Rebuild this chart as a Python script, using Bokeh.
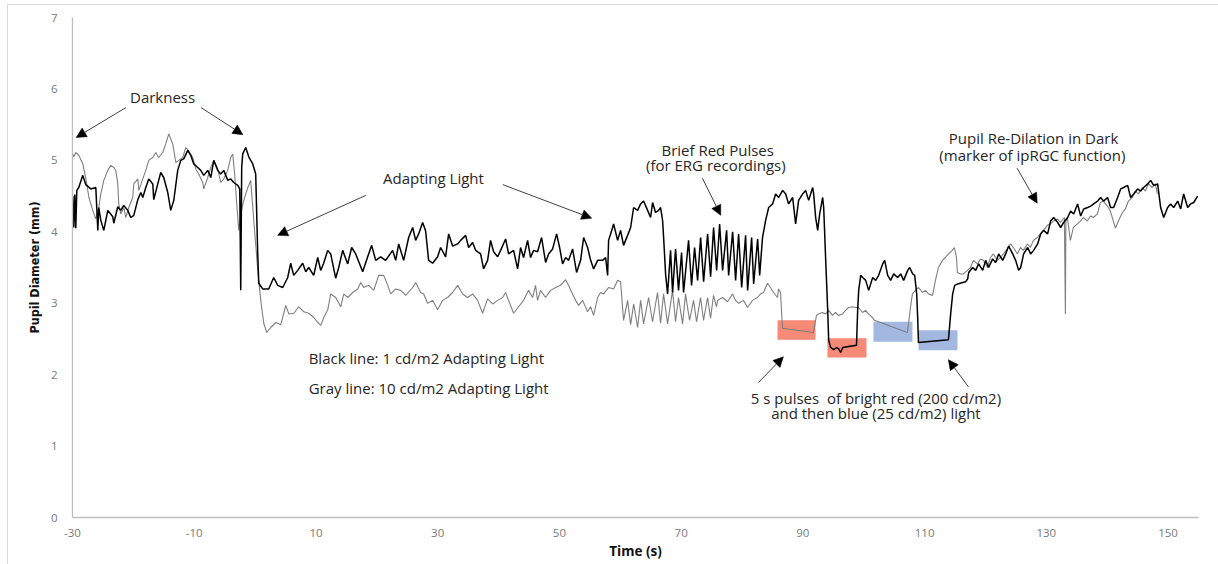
from bokeh.plotting import figure
from bokeh.models import Arrow, NormalHead, Label, FixedTicker, Range1d
from bokeh.embed import file_html
from bokeh.resources import INLINE

# ---- recorded pupil diameter (mm) vs time (s) ----
# 1 cd/m2 adapting light (black trace)
black_time = [
    -29.95, -29.79, -29.62, -29.46, -29.29, -28.97, -28.31, -27.82, -26.99, -26.17,
    -25.84, -25.68, -25.35, -24.86, -24.20, -23.38, -23.22, -22.56, -22.07, -21.58,
    -20.92, -20.43, -19.93, -19.27, -18.78, -18.45, -17.96, -17.47, -16.81, -16.65,
    -15.99, -15.50, -15.01, -14.35, -13.86, -13.36, -12.71, -12.21, -11.72, -11.06,
    -10.57, -10.08, -9.42, -8.93, -8.43, -7.78, -7.28, -6.79, -6.13, -5.64,
    -5.15, -4.49, -4.00, -3.51, -2.85, -2.52, -2.36, -2.20, -2.03, -1.54,
    -1.04, -0.39, 0.10, 0.43, 0.60, 1.25,
    2.24, 3.06, 3.72, 4.54, 5.36, 5.85, 6.34, 7.00, 7.82, 8.32,
    8.81, 9.63, 10.29, 10.78, 11.27, 11.93, 12.42, 13.24, 13.74, 14.39,
    15.21, 15.87, 16.53, 17.68, 18.50, 19.15, 19.81, 20.63, 21.45, 22.60,
    23.10, 23.59, 24.41, 25.23, 25.89, 26.38, 26.87, 27.53, 28.02, 28.51,
    29.17, 29.99, 30.48, 31.30, 31.80, 32.46, 33.28, 33.77, 34.59, 35.08,
    35.74, 36.23, 37.05, 37.54, 38.20, 38.69, 39.19, 39.85, 40.34, 41.16,
    41.65, 42.47, 43.13, 43.62, 44.11, 44.77, 45.26, 45.76, 46.41, 47.07,
    47.73, 48.22, 48.88, 49.54, 50.03, 50.52, 51.02, 51.51, 52.17, 52.82,
    53.48, 53.98, 54.63, 55.13, 55.62, 56.28, 57.10, 57.59, 57.92, 58.08,
    58.74, 58.90, 59.56, 60.05, 60.54, 61.20, 61.70, 62.19, 62.85, 63.34,
    63.83, 64.49, 64.98, 65.31, 65.80, 66.30, 66.62, 66.95, 67.12, 67.45,
    67.77, 68.26, 68.59, 69.08, 69.57, 70.07, 70.40, 71.22, 71.71, 72.21,
    72.70, 73.20, 73.69, 74.35, 74.84, 75.33, 75.83, 76.32, 76.81, 77.47,
    77.80, 78.46, 78.95, 79.44, 79.94, 80.59, 80.92, 81.58, 81.91, 82.57,
    82.90, 83.37, 83.88, 84.38, 85.03, 85.52, 86.02, 86.68, 87.17, 87.66,
    88.32, 88.81, 89.30, 89.96, 90.45, 90.95, 91.61, 91.77, 92.10, 92.43,
    92.76, 93.25, 93.42, 93.75, 94.08, 94.24, 94.57, 95.06, 95.55, 95.88,
    96.21, 96.54, 98.81, 99.00, 99.17, 99.50, 99.82, 100.32, 100.81, 101.47,
    101.96, 102.45, 103.11, 103.44, 103.93, 104.42, 104.92, 105.57, 106.07, 106.56,
    107.22, 107.55, 108.04, 108.37, 108.70, 108.86, 108.99, 113.92, 114.28, 114.61,
    114.94, 115.44, 116.26, 116.75, 117.08, 117.24, 117.90, 118.39, 118.88, 119.54,
    120.03, 120.52, 121.18, 121.68, 122.17, 122.83, 123.32, 123.81, 124.47, 124.96,
    125.45, 125.78, 126.27, 126.93, 127.42, 127.91, 128.57, 129.06, 129.55, 130.21,
    130.70, 131.20, 131.86, 132.35, 132.84, 133.50, 133.99, 134.49, 135.14, 135.64,
    136.13, 136.79, 137.28, 137.77, 138.43, 138.92, 139.41, 140.07, 140.56, 141.06,
    141.71, 142.21, 142.70, 143.36, 143.85, 144.35, 145.00, 145.50, 145.99, 146.65,
    147.14, 147.63, 148.29, 148.78, 149.28, 149.93, 150.43, 150.92, 151.58, 152.07,
    152.56, 153.22, 153.71, 154.21, 154.86,
]
black_pupil = [
    4.50, 4.06, 4.52, 4.05, 4.58, 4.62, 4.79, 4.66, 4.60, 4.62,
    4.02, 4.34, 4.16, 4.02, 4.30, 4.21, 4.12, 4.35, 4.30, 4.37,
    4.30, 4.20, 4.23, 4.45, 4.55, 4.48, 4.62, 4.74, 4.67, 4.45,
    4.67, 4.83, 4.76, 4.55, 4.30, 4.44, 4.86, 5.00, 5.02, 5.14,
    5.07, 4.95, 4.90, 4.86, 4.79, 4.86, 4.76, 5.00, 4.86, 4.81,
    4.86, 4.72, 4.74, 4.69, 4.65, 4.60, 3.18, 4.90, 5.09, 5.18,
    5.05, 4.95, 4.81, 3.70, 3.28, 3.20,
    3.20, 3.36, 3.25, 3.22, 3.36, 3.56, 3.39, 3.46, 3.56, 3.44,
    3.50, 3.39, 3.64, 3.46, 3.56, 3.74, 3.69, 3.35, 3.50, 3.74,
    3.55, 3.78, 3.69, 3.44, 3.65, 3.81, 3.60, 3.65, 3.60, 3.74,
    3.60, 3.83, 3.60, 3.92, 4.06, 3.88, 3.97, 4.13, 4.01, 3.60,
    3.56, 3.65, 3.78, 3.65, 3.97, 3.80, 3.83, 3.88, 3.95, 3.78,
    3.85, 3.74, 3.69, 3.48, 3.60, 3.88, 3.72, 3.65, 3.74, 3.90,
    3.69, 3.74, 3.48, 3.78, 3.64, 3.88, 3.64, 3.74, 3.72, 3.92,
    3.57, 3.69, 3.76, 3.97, 3.78, 3.55, 3.64, 3.60, 3.76, 3.43,
    3.60, 3.92, 3.78, 3.60, 3.48, 3.60, 3.60, 3.64, 3.39, 3.88,
    4.06, 4.11, 3.88, 4.02, 3.81, 3.95, 4.06, 4.34, 4.30, 4.39,
    4.43, 4.30, 4.20, 4.41, 4.27, 4.30, 4.34, 4.16, 3.92, 3.40,
    3.13, 3.74, 3.15, 3.76, 3.18, 3.71, 3.15, 3.88, 3.25, 3.78,
    3.32, 3.92, 3.30, 3.97, 3.37, 4.06, 3.46, 4.11, 3.46, 4.02,
    3.39, 4.00, 3.32, 3.97, 3.22, 3.95, 3.18, 3.92, 3.27, 3.90,
    3.39, 3.92, 4.16, 4.34, 4.39, 4.53, 4.48, 4.58, 4.53, 4.39,
    4.48, 4.11, 4.44, 4.53, 4.58, 4.44, 4.62, 4.53, 4.20, 4.02,
    4.25, 4.48, 4.34, 3.60, 2.90, 2.48, 2.38, 2.35, 2.38, 2.36,
    2.31, 2.38, 2.41, 2.90, 3.18, 3.39, 3.36, 3.32, 3.18, 3.36,
    3.32, 3.39, 3.55, 3.60, 3.39, 3.32, 3.41, 3.36, 3.41, 3.32,
    3.46, 3.50, 3.41, 3.39, 3.13, 2.80, 2.45, 2.49, 2.85, 3.13,
    3.25, 3.27, 3.29, 3.30, 3.34, 3.43, 3.50, 3.46, 3.55, 3.46,
    3.60, 3.50, 3.62, 3.57, 3.69, 3.60, 3.69, 3.80, 3.69, 3.60,
    3.46, 3.50, 3.69, 3.78, 3.69, 3.74, 3.83, 3.97, 4.02, 3.97,
    4.15, 4.20, 4.13, 4.06, 4.13, 4.20, 4.29, 4.25, 4.39, 4.22,
    4.32, 4.34, 4.36, 4.39, 4.43, 4.48, 4.43, 4.48, 4.34, 4.34,
    4.48, 4.60, 4.62, 4.65, 4.48, 4.53, 4.60, 4.57, 4.62, 4.67,
    4.72, 4.65, 4.67, 4.34, 4.20, 4.34, 4.39, 4.34, 4.43, 4.32,
    4.53, 4.34, 4.39, 4.41, 4.50,
]

# 10 cd/m2 adapting light (gray trace)
gray_time = [
    -29.95, -29.79, -29.46, -28.96, -28.30, -27.80, -27.30, -26.67, -26.17, -25.68,
    -25.35, -24.86, -24.20, -23.71, -23.22, -22.89, -22.56, -22.40, -22.07, -21.57,
    -21.25, -20.75, -20.10, -19.93, -19.27, -19.11, -18.45, -17.96, -17.47, -16.81,
    -16.32, -15.83, -15.17, -14.68, -14.18, -13.53, -13.03, -12.54, -11.88, -11.39,
    -10.90, -10.24, -9.75, -9.26, -8.60, -8.44, -7.78, -7.29, -6.79, -6.14,
    -5.64, -5.15, -4.50, -4.00, -3.67, -3.35, -3.02, -2.69, -2.36, -1.86,
    -1.20, -0.72, -0.22, 0.44, 0.93, 1.42, 1.92,
    2.57, 3.40, 4.23, 5.05, 5.54, 6.36, 7.18, 8.00, 8.82, 9.64,
    10.30, 10.79, 11.28, 11.94, 12.43, 13.25, 14.07, 14.57, 15.22, 16.04,
    16.86, 17.35, 17.85, 18.67, 19.49, 20.31, 21.13, 21.79, 22.28, 23.10,
    23.92, 24.74, 25.89, 26.38, 27.20, 27.70, 28.35, 29.17, 29.99, 30.81,
    31.63, 32.45, 33.28, 34.10, 34.92, 35.74, 36.56, 37.38, 38.20, 39.03,
    39.85, 40.67, 41.16, 41.65, 42.47, 43.29, 44.11, 44.93, 45.59, 46.08,
    46.41, 46.90, 47.73, 48.55, 49.37, 50.19, 51.01, 51.50, 52.16, 52.66,
    53.15, 53.81, 54.63, 55.12, 55.62, 56.27, 56.77, 57.26, 58.08, 58.90,
    59.56, 60.05, 60.54, 61.20, 61.70, 62.20, 62.85, 63.34, 63.83, 64.65,
    65.30, 66.12, 66.62, 67.11, 67.77, 68.59, 69.08, 69.57, 70.23, 70.72,
    71.38, 72.04, 72.53, 73.19, 73.68, 74.34, 74.83, 75.32, 75.81, 75.98,
    76.80, 77.62, 78.44, 78.93, 79.43, 80.25, 80.91, 81.73, 82.55, 83.04,
    83.53, 84.19, 84.68, 85.18, 85.83, 86.00, 86.33, 86.65, 91.74, 92.24,
    92.57, 93.22, 93.71, 94.21, 94.87, 95.36, 95.85, 96.51, 97.00, 97.49,
    98.15, 98.64, 99.14, 99.79, 100.29, 100.78, 101.43, 101.76, 107.18, 107.68,
    108.00, 108.50, 108.99, 109.65, 110.14, 110.63, 111.29, 111.78, 112.27, 112.93,
    113.42, 113.92, 114.57, 114.90, 115.23, 115.39, 115.89, 116.38, 117.04, 117.53,
    118.02, 118.68, 119.17, 119.66, 120.32, 120.81, 121.31, 121.96, 122.46, 122.95,
    123.60, 124.10, 124.59, 125.25, 125.74, 126.23, 126.89, 127.38, 127.87, 128.53,
    129.03, 129.52, 130.17, 130.67, 131.16, 131.82, 132.31, 132.97, 133.13, 133.21,
    133.46, 133.95, 134.44, 135.10, 135.59, 136.09, 136.74, 137.24, 137.73, 138.39,
    138.88, 139.37, 140.03, 140.52, 141.01, 141.34, 141.84, 142.49, 142.98, 143.48,
    144.13, 144.63, 145.12, 145.78, 146.27, 146.76, 147.42, 147.91, 148.24,
]
gray_pupil = [
    5.09, 5.05, 5.11, 5.07, 4.95, 4.74, 4.48, 4.30, 4.18, 4.34,
    4.53, 4.72, 4.86, 4.93, 4.90, 4.86, 4.67, 4.39, 4.25, 4.34,
    4.20, 4.34, 4.48, 4.67, 4.74, 4.58, 4.74, 4.86, 5.00, 5.04,
    5.11, 5.04, 5.11, 5.23, 5.37, 5.23, 4.97, 5.00, 5.04, 5.18,
    5.13, 5.04, 4.88, 4.81, 4.69, 4.60, 4.76, 4.90, 5.00, 4.88,
    4.69, 4.74, 4.86, 5.04, 5.09, 4.80, 4.40, 4.02, 4.25, 4.44,
    4.62, 4.72, 4.16, 3.46, 3.04, 2.72, 2.59,
    2.66, 2.73, 2.70, 2.97, 2.85, 2.86, 2.95, 2.88, 2.86, 2.80,
    2.73, 2.69, 2.80, 2.91, 3.13, 3.08, 2.95, 3.13, 3.08, 3.15,
    3.20, 3.29, 3.22, 3.25, 3.18, 3.39, 3.39, 3.25, 3.13, 3.20,
    3.18, 3.11, 3.22, 3.29, 3.15, 3.13, 3.00, 3.04, 2.91, 3.04,
    3.08, 3.15, 3.25, 3.13, 3.08, 3.13, 3.04, 2.86, 3.06, 2.99,
    3.04, 3.08, 3.15, 3.04, 2.86, 2.95, 3.04, 3.18, 3.08, 3.25,
    3.04, 3.18, 3.08, 3.18, 3.22, 3.25, 3.33, 3.25, 3.13, 3.04,
    2.97, 3.04, 2.88, 2.95, 2.83, 3.08, 3.15, 3.13, 3.22, 3.20,
    3.32, 3.30, 2.76, 3.04, 2.70, 2.99, 2.66, 3.04, 2.71, 3.08,
    2.74, 3.15, 2.72, 3.13, 2.71, 3.18, 2.74, 3.08, 2.71, 3.13,
    2.76, 3.04, 2.74, 3.08, 2.76, 3.08, 2.79, 3.11, 2.95, 3.04,
    3.08, 3.02, 3.13, 3.04, 3.00, 3.04, 2.94, 3.04, 3.08, 3.13,
    3.15, 3.28, 3.22, 3.15, 3.08, 3.20, 3.15, 2.65, 2.59, 2.83,
    2.85, 2.87, 2.85, 2.90, 2.83, 2.87, 2.83, 2.85, 2.90, 2.94,
    2.95, 2.94, 2.94, 2.87, 2.90, 2.85, 2.80, 2.76, 2.59, 2.94,
    3.13, 3.18, 3.22, 3.15, 3.18, 3.13, 3.11, 3.32, 3.50, 3.60,
    3.64, 3.69, 3.74, 3.78, 3.64, 3.43, 3.41, 3.41, 3.46, 3.50,
    3.60, 3.55, 3.62, 3.60, 3.50, 3.64, 3.69, 3.60, 3.64, 3.69,
    3.76, 3.83, 3.78, 3.69, 3.78, 3.74, 3.83, 3.78, 3.88, 3.92,
    3.97, 4.02, 4.09, 4.11, 4.15, 4.18, 4.13, 4.20, 2.85, 4.15,
    4.20, 3.88, 4.06, 4.11, 4.15, 4.20, 4.15, 4.22, 4.20, 4.25,
    4.41, 4.43, 4.36, 4.29, 4.15, 4.05, 4.15, 4.27, 4.32, 4.43,
    4.48, 4.57, 4.53, 4.62, 4.57, 4.67, 4.62, 4.67, 4.53,
]

# 5 s light pulses: bright red, then blue
pulse_kind = ["red", "red", "blue", "blue"]
pulse_start = [85.83, 94.04, 101.60, 109.00]
pulse_end = [92.07, 100.45, 108.00, 115.40]
pulse_low = [2.49, 2.24, 2.46, 2.34]
pulse_high = [2.76, 2.51, 2.74, 2.62]

x_ticks = [-30, -10, 10, 30, 50, 70, 90, 110, 130, 150]
y_ticks = [0, 1, 2, 3, 4, 5, 6, 7]

TEXT = "#262626"
FONT = "Open Sans"

p = figure(
    width=1211, height=560,
    x_range=Range1d(-30, 155), y_range=Range1d(0, 7),
    output_backend="svg", toolbar_location=None,
    min_border_left=64, min_border_right=21, min_border_top=12, min_border_bottom=48,
    margin=(4, 0, 0, 7),
    styles={"border-left": "1px solid #d9d9d9", "border-top": "1px solid #d9d9d9"},
)
p.background_fill_color = "white"
p.border_fill_color = "white"
p.outline_line_color = None
p.xgrid.visible = False
p.ygrid.visible = False

for ax in (p.xaxis[0], p.yaxis[0]):
    ax.axis_line_color = "#BFBFBF"
    ax.axis_line_width = 1.3
    ax.major_tick_line_color = None
    ax.minor_tick_line_color = None
    ax.major_label_text_font = FONT
    ax.major_label_text_font_size = "11.5px"
    ax.major_label_text_color = "#7A7A7A"
    ax.axis_label_text_color = "#111111"
    ax.axis_label_text_font_style = "bold"

p.xaxis.ticker = FixedTicker(ticks=x_ticks)
p.yaxis.ticker = FixedTicker(ticks=y_ticks)
# plain hyphen for negative tick labels
p.xaxis.major_label_overrides = {t: f"{t:d}" for t in x_ticks}
p.xaxis.major_label_standoff = 5
p.yaxis.major_label_standoff = 9
p.xaxis.axis_label = "Time (s)"
p.xaxis.axis_label_text_font = FONT
p.xaxis.axis_label_text_font_size = "13.5px"
p.xaxis.axis_label_standoff = 2
p.yaxis.axis_label = "Pupil Diameter (mm)"
p.yaxis.axis_label_text_font = "'Liberation Sans Narrow', 'DejaVu Sans Condensed', sans-serif"
p.yaxis.axis_label_text_font_size = "12.5px"
p.yaxis.axis_label_standoff = 6

# stimulus pulse boxes (drawn beneath the traces)
pulse_fill = {"red": "#F58A77", "blue": "#A2B8E0"}
p.quad(left=pulse_start, right=pulse_end, bottom=pulse_low, top=pulse_high,
       fill_color=[pulse_fill[k] for k in pulse_kind], line_color=None)

p.line(gray_time, gray_pupil, line_color="#7F7F7F", line_width=1.1)
p.line(black_time, black_pupil, line_color="black", line_width=1.5)

# annotation arrows: (x_start, y_start, x_end, y_end)
arrows = [
    (-21.2, 5.74, -29.4, 5.32),
    (-8.9, 5.74, -2.0, 5.36),
    (18.2, 4.51, 3.7, 3.95),
    (40.7, 4.66, 55.3, 4.19),
    (73.5, 4.75, 76.5, 4.23),
    (125.2, 4.89, 128.5, 4.40),
    (82.7, 1.89, 86.8, 2.25),
    (117.2, 1.83, 113.9, 2.21),
]
for xs, ys, xe, ye in arrows:
    p.add_layout(Arrow(x_start=xs, y_start=ys, x_end=xe, y_end=ye,
                       line_color="#404040", line_width=1,
                       end=NormalHead(size=10, fill_color="black", line_color="black", line_width=0.5)))

notes = [
    ("Darkness", -15.2, 5.89, "center"),
    ("Adapting Light", 29.3, 4.76, "center"),
    ("Brief Red Pulses", 76.0, 5.15, "center"),
    ("(for ERG recordings)", 75.7, 4.93, "center"),
    ("Pupil Re-Dilation in Dark", 127.9, 5.32, "center"),
    ("(marker of ipRGC function)", 127.7, 5.08, "center"),
    ("Black line: 1 cd/m2 Adapting Light", 8.8, 2.24, "left"),
    ("Gray line: 10 cd/m2 Adapting Light", 8.8, 1.81, "left"),
    ("5 s pulses \u00a0of bright red (200 cd/m2)", 102.0, 1.68, "center"),
    ("and then blue (25 cd/m2) light", 102.0, 1.46, "center"),
]
for txt, x, y, align in notes:
    p.add_layout(Label(x=x, y=y, text=txt, text_align=align, text_baseline="middle",
                       text_font=FONT, text_font_size="15px", text_color=TEXT))

open("out.html", "w").write(file_html(p, INLINE))
